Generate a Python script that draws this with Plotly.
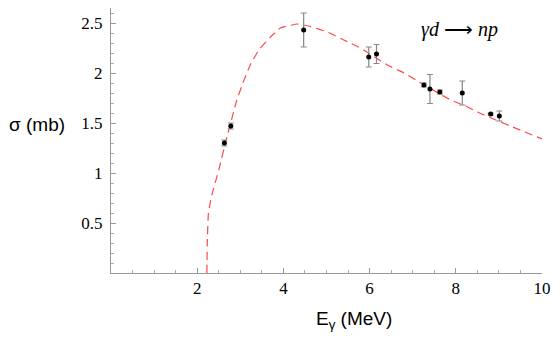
import plotly.graph_objects as go

# measured cross sections (gamma d -> n p)
energy = [2.63, 2.78, 4.47, 5.98, 6.16, 7.26, 7.40, 7.63, 8.15, 8.81, 9.01]
sigma = [1.30, 1.47, 2.43, 2.16, 2.19, 1.88, 1.84, 1.81, 1.80, 1.59, 1.57]
sigma_err = [0.03, 0.03, 0.17, 0.10, 0.095, 0.02, 0.145, 0.02, 0.12, 0.01, 0.05]

# theory curve
curve_e = [2.224, 2.235, 2.26, 2.34, 2.50, 2.69, 2.92, 3.06, 3.23, 3.43, 3.70,
           3.93, 4.32, 4.59, 5.02, 5.40, 5.79, 6.41, 6.80, 7.15, 7.88, 8.23,
           8.50, 8.93, 9.32, 10.0]
curve_sigma = [0.0, 0.32, 0.60, 0.78, 1.03, 1.36, 1.73, 1.90, 2.08, 2.23, 2.36,
               2.45, 2.49, 2.47, 2.41, 2.33, 2.25, 2.08, 2.00, 1.91, 1.73, 1.67,
               1.61, 1.53, 1.46, 1.34]

x_ticks = [2, 4, 6, 8, 10]
y_ticks = [0.5, 1, 1.5, 2, 2.5]

fig = go.Figure()

fig.add_trace(go.Scatter(
    x=curve_e, y=curve_sigma,
    mode='lines',
    line=dict(color='#ff4a4a', width=1.2, dash='8px,5px', shape='spline', smoothing=0.3),
    hoverinfo='skip'
))

fig.add_trace(go.Scatter(
    x=energy, y=sigma,
    mode='markers',
    marker=dict(color='black', size=5),
    error_y=dict(type='data', array=sigma_err, color='#888888', thickness=1.2, width=3)
))

serif = 'Liberation Serif, Times New Roman, serif'

axis_common = dict(
    showgrid=False, zeroline=False,
    showline=True, linecolor='#999999', linewidth=1,
    ticks='inside', ticklen=5, tickcolor='#999999',
    tickfont=dict(family=serif, size=17, color='black'),
)

fig.update_xaxes(
    range=[0, 10], tickmode='array', tickvals=x_ticks,
    minor=dict(tickvals=[i * 0.5 for i in range(1, 20)], ticks='inside', ticklen=3, tickcolor='#aaaaaa'),
    **axis_common
)
fig.update_yaxes(
    range=[0, 2.65], tickmode='array', tickvals=y_ticks, ticktext=['0.5', '1', '1.5', '2', '2.5'],
    minor=dict(tickvals=[i * 0.1 for i in range(1, 27)], ticks='inside', ticklen=3, tickcolor='#aaaaaa'),
    ticklabelstandoff=4,
    **axis_common
)

# the page body adds an 8px offset, so margins are shifted to compensate
fig.update_layout(
    width=560, height=346,
    margin=dict(l=103, r=26, t=0, b=81),
    paper_bgcolor='white', plot_bgcolor='white',
    showlegend=False,
    annotations=[
        dict(text='σ (mb)', xref='paper', yref='paper', x=-0.172, y=0.562,
             xanchor='center', yanchor='middle', showarrow=False,
             font=dict(family='Liberation Sans', size=19, color='black')),
        dict(text='E<sub>γ</sub> (MeV)', xref='paper', yref='paper', x=0.564, y=-0.177,
             xanchor='center', yanchor='middle', showarrow=False,
             font=dict(family='Liberation Sans', size=19, color='black')),
        dict(text='<i>γd</i> ⟶ <i>np</i>', xref='paper', yref='paper', x=0.903, y=0.917,
             xanchor='right', yanchor='middle', showarrow=False,
             font=dict(family=serif, size=20, color='black')),
    ]
)

fig.write_html("out.html")
